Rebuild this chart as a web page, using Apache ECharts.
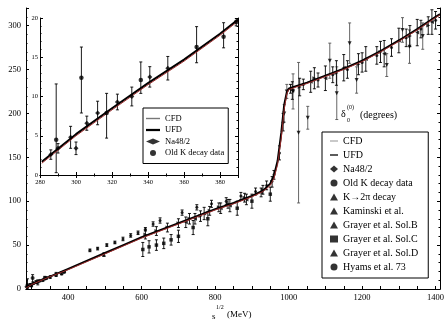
<!DOCTYPE html>
<html>
<head>
<meta charset="utf-8">
<script src="https://cdn.jsdelivr.net/npm/echarts@6/dist/echarts.min.js"></script>
<style>
    html, body { margin: 0; padding: 0; background: #fff; }
    #chart { width: 446px; height: 324px; }
</style>
</head>
<body>
<div id="chart"></div>
<script>
// main curve, s^1/2 in MeV -> phase in degrees
const curveS = [285, 300, 350, 400, 450, 500, 550, 600, 650, 700, 750, 800, 850, 900, 930, 950, 960, 970, 980, 988, 995, 1000, 1020, 1050, 1100, 1150, 1200, 1250, 1300, 1350, 1400, 1412];
const cfdVals = [1, 5, 14, 22, 31, 40, 49, 58, 66, 74, 82, 90, 97, 105, 111, 118, 126, 142, 172, 205, 222, 227, 230, 234, 242, 250, 259, 270, 282, 295, 309, 312];
const ufdVals = [1, 5, 14, 23, 32, 41, 50, 59, 67, 75, 83, 91, 98, 106, 112, 120, 129, 146, 178, 210, 224, 228, 231, 235, 243, 251, 260, 271, 283, 296, 310, 313];

// inset curve
const insetS = [281, 300, 320, 340, 360, 380, 390];
const insetCfd = [1.5, 5, 8.3, 11.5, 14.5, 17.8, 19.6];
const insetUfd = [1.7, 5.2, 8.5, 11.7, 14.7, 18.0, 19.8];

// [s, delta, err]
const na48 = [[286, 2.6, 0.6], [290, 3.4, 0.6], [297, 4.8, 1.4], [300, 3.4, 0.8], [306, 6.6, 0.9], [312, 7.9, 1.5], [323, 9.3, 1.0], [331, 10.0, 1.2], [341, 12.5, 1.3], [351, 13.6, 1.5]];
// [s, delta, low, high]
const oldK = [[289, 4.5, 0.3, 11.6], [303, 12.4, 7.9, 16.3], [317, 7.9, 4.7, 10.4], [336, 12.1, 10.4, 14.4], [367, 16.3, 14.3, 18.9], [382, 17.6, 16.2, 19.4], [389, 19.5, 19.0, 20.0]];
const k2pi = [[497, 39.2, 2]];
const kaminski = [[988, 200, 10], [995, 225, 8], [1012, 225, 20], [1027, 178, 80], [1052, 195, 13], [1112, 260, 20], [1131, 223, 30], [1166, 280, 23], [1185, 238, 15], [1267, 255, 13], [1310, 295, 14], [1329, 276, 19], [1365, 288, 15]];
const grayerB = [[720, 76, 6], [745, 80, 6], [770, 86, 7], [815, 92, 6], [840, 95, 7], [885, 102, 6], [925, 110, 5], [1010, 226, 10], [1060, 236, 12], [1100, 240, 14], [1150, 252, 15], [1210, 262, 14], [1260, 268, 15], [1300, 283, 14], [1350, 292, 15], [1390, 304, 14]];
const grayerC = [[603, 45, 8], [620, 48, 7], [640, 50, 6], [660, 52, 6], [680, 56, 6], [700, 60, 7], [740, 70, 8], [780, 80, 8], [860, 92, 8], [900, 100, 8], [950, 108, 8]];
const grayerD = [[610, 62, 5], [640, 66, 5], [670, 70, 5], [700, 75, 5], [730, 80, 6], [760, 83, 6], [785, 89, 5], [810, 93, 5], [835, 97, 5], [880, 104, 5], [930, 113, 5], [955, 122, 6], [1030, 230, 10], [1070, 240, 12], [1130, 246, 14], [1190, 256, 12], [1250, 270, 12], [1330, 288, 12], [1380, 300, 10]];
const hyams = [[459, 44, 1.5], [480, 46, 1.5], [505, 50, 1.5], [527, 53, 1.5], [549, 57, 2], [570, 61, 2], [590, 64, 2], [610, 68, 2], [631, 74, 2.5], [650, 78, 3], [710, 87, 3], [750, 93, 3], [790, 97, 4], [830, 100, 4], [870, 106, 4], [910, 111, 4], [940, 118, 5], [960, 130, 5], [975, 155, 8], [985, 190, 10], [1005, 228, 5], [1040, 233, 6], [1080, 238, 8], [1120, 244, 9], [1160, 250, 10], [1200, 258, 11], [1240, 266, 10], [1280, 275, 10], [1320, 286, 10], [1360, 296, 10], [1400, 306, 10]];

const xLabelVals = [400, 600, 800, 1000, 1200, 1400];
const xTickVals = [300, 350, 400, 450, 500, 550, 600, 650, 700, 750, 800, 850, 900, 950, 1000, 1050, 1100, 1150, 1200, 1250, 1300, 1350, 1400];

const mainLegend = ["CFD", "UFD", "Na48/2", "Old K decay data", "K→2π decay", "Kaminski et al.", "Grayer et al. Sol.B", "Grayer et al. Sol.C", "Grayer et al. Sol.D", "Hyams et al. 73"];
const insetLegend = ["CFD", "UFD", "Na48/2", "Old K decay data"];

const serif = "Liberation Serif";

function zip(xs, ys) {
    return xs.map((x, i) => [x, ys[i]]);
}

// line entries in the legend are drawn as a short bar
function legendItems(names) {
    return names.map(n => {
        if (n === "CFD") {
            return { name: n, icon: "path://M0,0H10V1H0Z", itemStyle: { color: "#777" } };
        }
        if (n === "UFD") {
            return { name: n, icon: "path://M0,0H10V1.6H0Z", itemStyle: { color: "#000" } };
        }
        return n;
    });
}

function errorBars(data, xi, yi, color, asym) {
    return {
        type: "custom",
        xAxisIndex: xi,
        yAxisIndex: yi,
        silent: true,
        clip: true,
        z: 2,
        data: data,
        encode: { x: 0, y: 1 },
        renderItem: function (params, api) {
            const s = api.value(0);
            const v = api.value(1);
            const lo = asym ? api.value(2) : v - api.value(2);
            const hi = asym ? api.value(3) : v + api.value(2);
            const p1 = api.coord([s, lo]);
            const p2 = api.coord([s, hi]);
            const st = { stroke: color, lineWidth: 0.9 };
            const w = 1.5;
            return {
                type: "group",
                children: [
                    { type: "line", shape: { x1: p1[0], y1: p1[1], x2: p2[0], y2: p2[1] }, style: st },
                    { type: "line", shape: { x1: p1[0] - w, y1: p1[1], x2: p1[0] + w, y2: p1[1] }, style: st },
                    { type: "line", shape: { x1: p2[0] - w, y1: p2[1], x2: p2[0] + w, y2: p2[1] }, style: st },
                ],
            };
        },
    };
}

function points(name, data, xi, yi, symbol, size, rotate) {
    return {
        name: name,
        type: "scatter",
        xAxisIndex: xi,
        yAxisIndex: yi,
        symbol: symbol,
        symbolSize: size,
        symbolRotate: rotate || 0,
        itemStyle: { color: "#000" },
        z: 3,
        data: data.map(d => [d[0], d[1]]),
    };
}

function curve(name, data, xi, yi, color, width, z) {
    return {
        name: name,
        type: "line",
        xAxisIndex: xi,
        yAxisIndex: yi,
        symbol: "none",
        smooth: false,
        lineStyle: { color: color, width: width },
        itemStyle: { color: color },
        z: z,
        data: data,
    };
}

const tickStyle = { inside: true, length: 3, lineStyle: { color: "#000", width: 1 } };
const minorStyle = { show: true, length: 1.5, lineStyle: { color: "#000", width: 1 } };
const lineStyle = { show: true, lineStyle: { color: "#000", width: 1 } };

const option = {
    animation: false,
    backgroundColor: "#fff",
    grid: [
        { left: 26, right: 6, top: 8, bottom: 35, outerBoundsMode: "none" },
        { left: 40, top: 18, width: 198, height: 157, show: true, backgroundColor: "#fff", borderWidth: 0, z: 5, outerBoundsMode: "none" },
    ],
    xAxis: [
        {
            type: "value", gridIndex: 0, min: 285, max: 1412, position: "bottom",
            axisLine: lineStyle,
            axisTick: { ...tickStyle, customValues: xTickVals },
            axisLabel: { customValues: xLabelVals, formatter: v => String(v), fontFamily: serif, fontSize: 8.5, color: "#000", margin: 4 },
            splitLine: { show: false },
        },
        {
            type: "value", gridIndex: 1, min: 280, max: 390, interval: 20, position: "bottom",
            axisLine: lineStyle,
            axisTick: tickStyle,
            minorTick: { ...minorStyle, splitNumber: 2 },
            axisLabel: { fontFamily: serif, fontSize: 6.5, color: "#000", margin: 4, showMaxLabel: false },
            splitLine: { show: false },
            z: 6,
        },
        {
            type: "value", gridIndex: 0, min: 285, max: 1412, position: "top",
            axisLine: lineStyle, axisTick: { show: false }, axisLabel: { show: false }, splitLine: { show: false },
        },
        {
            type: "value", gridIndex: 1, min: 280, max: 390, interval: 20, position: "top",
            axisLine: lineStyle, axisTick: tickStyle, minorTick: { ...minorStyle, splitNumber: 2 },
            axisLabel: { show: false }, splitLine: { show: false }, z: 6,
        },
    ],
    yAxis: [
        {
            type: "value", gridIndex: 0, min: 0, max: 320, interval: 50, position: "left",
            axisLine: lineStyle,
            axisTick: tickStyle,
            minorTick: { ...minorStyle, splitNumber: 5 },
            axisLabel: { fontFamily: serif, fontSize: 8.5, color: "#000", margin: 5, showMaxLabel: false },
            splitLine: { show: false },
        },
        {
            type: "value", gridIndex: 1, min: 0, max: 20, interval: 5, position: "left",
            axisLine: lineStyle,
            axisTick: tickStyle,
            minorTick: { ...minorStyle, splitNumber: 5 },
            axisLabel: { fontFamily: serif, fontSize: 6.5, color: "#000", margin: 2 },
            splitLine: { show: false },
            z: 6,
        },
        {
            type: "value", gridIndex: 0, min: 0, max: 320, interval: 50, position: "right",
            axisLine: lineStyle, axisTick: tickStyle, minorTick: { ...minorStyle, splitNumber: 5 },
            axisLabel: { show: false }, splitLine: { show: false },
        },
        {
            type: "value", gridIndex: 1, min: 0, max: 20, interval: 5, position: "right",
            axisLine: lineStyle, axisTick: tickStyle, minorTick: { ...minorStyle, splitNumber: 5 },
            axisLabel: { show: false }, splitLine: { show: false }, z: 6,
        },
    ],
    legend: [
        {
            data: legendItems(mainLegend),
            orient: "vertical",
            left: 322,
            top: 132,
            itemWidth: 8,
            itemHeight: 7,
            itemGap: 4,
            padding: [4, 10, 6, 8],
            borderColor: "#000",
            borderWidth: 1,
            backgroundColor: "#fff",
            selectedMode: false,
            textStyle: { fontFamily: serif, fontSize: 10, lineHeight: 10, color: "#000" },
        },
        {
            data: legendItems(insetLegend),
            orient: "vertical",
            left: 143,
            top: 108,
            itemWidth: 14,
            itemHeight: 6,
            itemGap: 2.5,
            padding: [6, 4, 6, 3],
            borderColor: "#000",
            borderWidth: 1,
            backgroundColor: "#fff",
            selectedMode: false,
            z: 10,
            textStyle: { fontFamily: serif, fontSize: 8.5, lineHeight: 8, color: "#000" },
        },
    ],
    graphic: [
        { type: "text", x: 341, y: 109, style: { text: "δ", font: "10px Liberation Serif", fill: "#000" } },
        { type: "text", x: 347, y: 117, style: { text: "0", font: "6px Liberation Serif", fill: "#000" } },
        { type: "text", x: 347, y: 104, style: { text: "(0)", font: "6px Liberation Serif", fill: "#000" } },
        { type: "text", x: 360, y: 110, style: { text: "(degrees)", font: "10px Liberation Serif", fill: "#000" } },
        { type: "text", x: 212, y: 312, style: { text: "s", font: "9px Liberation Serif", fill: "#000" } },
        { type: "text", x: 216, y: 304, style: { text: "1/2", font: "6px Liberation Serif", fill: "#000" } },
        { type: "text", x: 227, y: 310, style: { text: "(MeV)", font: "9px Liberation Serif", fill: "#000" } },
    ],
    series: [
        curve("UFD", zip(curveS, ufdVals), 0, 0, "#000", 2, 4),
        curve("CFD", zip(curveS, cfdVals), 0, 0, "#9a2c2c", 1, 5),
        curve("UFD", zip(insetS, insetUfd), 1, 1, "#000", 2, 7),
        curve("CFD", zip(insetS, insetCfd), 1, 1, "#9a2c2c", 1, 8),

        errorBars(na48, 0, 0, "#000", false),
        points("Na48/2", na48, 0, 0, "diamond", 4),
        errorBars(oldK, 0, 0, "#000", true),
        points("Old K decay data", oldK, 0, 0, "circle", 4),
        errorBars(k2pi, 0, 0, "#000", false),
        points("K→2π decay", k2pi, 0, 0, "triangle", 4),
        errorBars(kaminski, 0, 0, "#555", false),
        points("Kaminski et al.", kaminski, 0, 0, "triangle", 4, 180),
        errorBars(grayerB, 0, 0, "#000", false),
        points("Grayer et al. Sol.B", grayerB, 0, 0, "triangle", 4, 90),
        errorBars(grayerC, 0, 0, "#000", false),
        points("Grayer et al. Sol.C", grayerC, 0, 0, "rect", 3.5),
        errorBars(grayerD, 0, 0, "#000", false),
        points("Grayer et al. Sol.D", grayerD, 0, 0, "triangle", 4, -90),
        errorBars(hyams, 0, 0, "#000", false),
        points("Hyams et al. 73", hyams, 0, 0, "circle", 3),

        Object.assign(errorBars(na48, 1, 1, "#000", false), { z: 7 }),
        Object.assign(points("Na48/2", na48, 1, 1, "diamond", 5), { z: 8 }),
        Object.assign(errorBars(oldK, 1, 1, "#000", true), { z: 7 }),
        Object.assign(points("Old K decay data", oldK, 1, 1, "circle", 4.5), { z: 8 }),
    ],
};

const chart = echarts.init(document.getElementById("chart"), null, { renderer: "canvas" });
chart.setOption(option);
</script>
</body>
</html>
